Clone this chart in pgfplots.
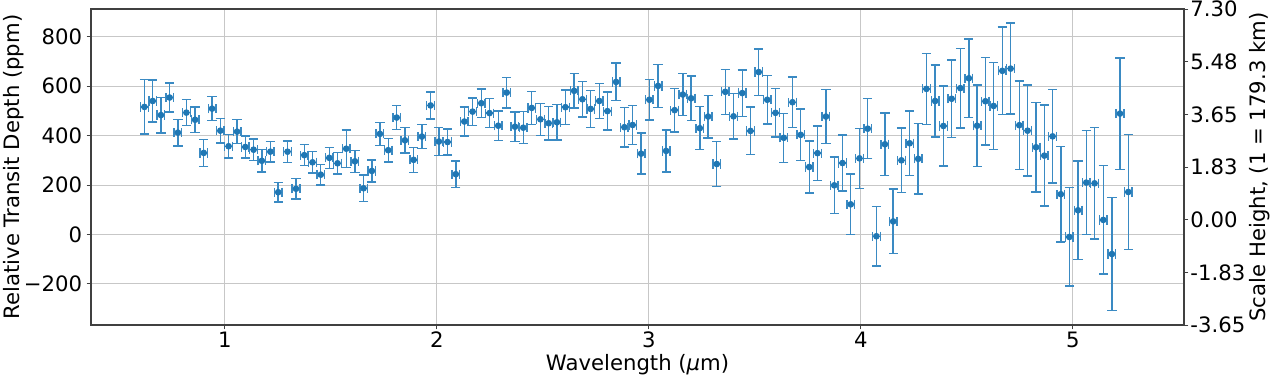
\documentclass[border=0pt]{standalone}
\usepackage{fontspec}
\setmainfont{DejaVu Sans}
\usepackage{pgfplots}
\pgfplotsset{compat=1.18}
\usepackage{pgfplotstable}
\definecolor{tabblue}{RGB}{31,119,180}
\definecolor{errblue}{RGB}{58,138,195}
\pgfplotstableread{
x y ex ey
0.620 516 0.018 110
0.659 540 0.018 85
0.698 483 0.018 72
0.739 554 0.018 58
0.778 412 0.018 54
0.818 493 0.018 53
0.859 464 0.018 52
0.900 330 0.018 54
0.939 509 0.018 49
0.978 420 0.018 50
1.017 357 0.018 47
1.057 416 0.018 49
1.096 354 0.018 44
1.135 343 0.018 43
1.174 298 0.018 45
1.214 335 0.018 41
1.251 171 0.018 40
1.295 335 0.018 43
1.335 185 0.018 41
1.374 321 0.018 43
1.413 292 0.018 43
1.452 242 0.018 42
1.492 310 0.018 43
1.531 288 0.018 43
1.572 347 0.018 76
1.613 296 0.018 44
1.654 187 0.018 53
1.693 257 0.018 44
1.731 407 0.018 46
1.770 341 0.018 47
1.810 473 0.018 48
1.849 381 0.018 51
1.890 302 0.018 51
1.929 396 0.018 49
1.970 522 0.018 55
2.009 376 0.018 57
2.050 374 0.018 53
2.089 244 0.018 54
2.129 457 0.018 58
2.168 497 0.018 55
2.209 531 0.018 57
2.248 491 0.018 58
2.289 440 0.018 59
2.329 574 0.018 62
2.368 436 0.018 60
2.407 432 0.018 65
2.447 512 0.018 66
2.488 466 0.018 65
2.527 450 0.018 67
2.566 454 0.018 72
2.606 515 0.018 70
2.647 581 0.018 70
2.686 547 0.018 71
2.725 508 0.018 74
2.766 540 0.018 71
2.804 499 0.018 77
2.845 617 0.018 76
2.884 434 0.018 80
2.923 443 0.018 79
2.963 327 0.018 83
3.002 545 0.018 82
3.043 601 0.018 87
3.081 338 0.018 85
3.121 503 0.018 88
3.160 566 0.018 84
3.199 551 0.018 90
3.240 430 0.018 87
3.279 477 0.018 86
3.320 285 0.018 90
3.360 577 0.018 91
3.399 478 0.018 92
3.440 572 0.018 94
3.479 419 0.018 96
3.518 657 0.018 94
3.558 545 0.018 98
3.597 492 0.018 98
3.636 391 0.018 99
3.677 535 0.018 102
3.716 403 0.018 104
3.756 273 0.018 105
3.795 329 0.018 110
3.835 477 0.018 109
3.874 199 0.018 115
3.913 289 0.018 113
3.952 122 0.018 123
3.993 308 0.018 121
4.032 428 0.018 121
4.073 -7 0.018 121
4.113 365 0.018 127
4.152 53 0.018 131
4.191 300 0.018 131
4.230 369 0.018 131
4.270 306 0.018 142
4.309 589 0.018 143
4.350 540 0.018 146
4.389 439 0.018 162
4.428 549 0.018 156
4.469 592 0.018 161
4.509 632 0.018 159
4.548 440 0.018 165
4.587 539 0.018 177
4.626 520 0.018 175
4.667 662 0.018 177
4.706 671 0.018 184
4.747 442 0.018 179
4.786 420 0.018 184
4.826 353 0.018 181
4.865 319 0.018 204
4.904 397 0.018 189
4.943 163 0.018 193
4.983 -10 0.018 199
5.024 98 0.018 200
5.063 210 0.018 210
5.102 207 0.018 225
5.143 59 0.018 219
5.184 -79 0.018 229
5.222 489 0.018 225
5.261 172 0.018 232
}\data

\begin{document}
\begin{tikzpicture}
\pgfplotsset{every axis/.append style={font=\fontsize{10.6}{12.7}\selectfont}}
\begin{axis}[name=main, scale only axis, width=546.5pt, height=158pt,
  xmin=0.368, xmax=5.524, ymin=-366, ymax=912,
  xtick={1,2,3,4,5}, ytick={-200,0,200,400,600,800},
  yticklabels={−200,0,200,400,600,800},
  xtick pos=bottom, ytick pos=left, tick align=outside, major tick length=2.2pt,
  grid=major, grid style={black!22, line width=0.5pt},
  axis line style={black!75, line width=0.6pt},
  tick style={black!75, line width=0.5pt},
  xticklabel style={inner sep=1.1pt},
  yticklabel style={inner sep=2pt},
  /pgf/number format/assume math mode=true,
  xlabel={Wavelength ({\itshape μ}m)}, ylabel={Relative Transit Depth (ppm)},
  xlabel style={at={(axis description cs:0.5,-0.1424)}, anchor=base},
  ylabel style={at={(axis description cs:-0.0710,0.5)}, anchor=center},
  ]
\addplot[only marks, mark=*, mark size=1.45pt, color=tabblue,
  error bars/.cd, x dir=both, x explicit, y dir=both, y explicit,
  error bar style={line width=0.7pt, errblue},
  error mark options={rotate=90, line width=0.7pt, mark size=2.3pt, errblue}]
  table[x=x, y=y, x error=ex, y error=ey] {\data};
\end{axis}
\begin{axis}[scale only axis, width=546.5pt, height=158pt,
  xmin=0.368, xmax=5.524, ymin=-3.65, ymax=7.30,
  axis y line*=right, axis x line=none,
  ytick={-3.65,-1.825,0,1.825,3.65,5.475,7.30},
  yticklabels={-3.65,-1.83,0.00,1.83,3.65,5.48,7.30},
  tick align=outside, major tick length=2.2pt,
  axis line style={black!75, line width=0.6pt},
  tick style={black!75, line width=0.5pt},
  yticklabel style={inner sep=0.8pt},
  ylabel={Scale Height, (1 = 179.3 km)},
  ylabel style={at={(axis description cs:1.0695,0.5)}, anchor=center},
  ]
\addplot[draw=none] coordinates {(1,0)};
\end{axis}
\pgfresetboundingbox
\path (main.south west) ++(-45.5pt,-26pt) rectangle ++(635pt,188.5pt);
\end{tikzpicture}
\end{document}
